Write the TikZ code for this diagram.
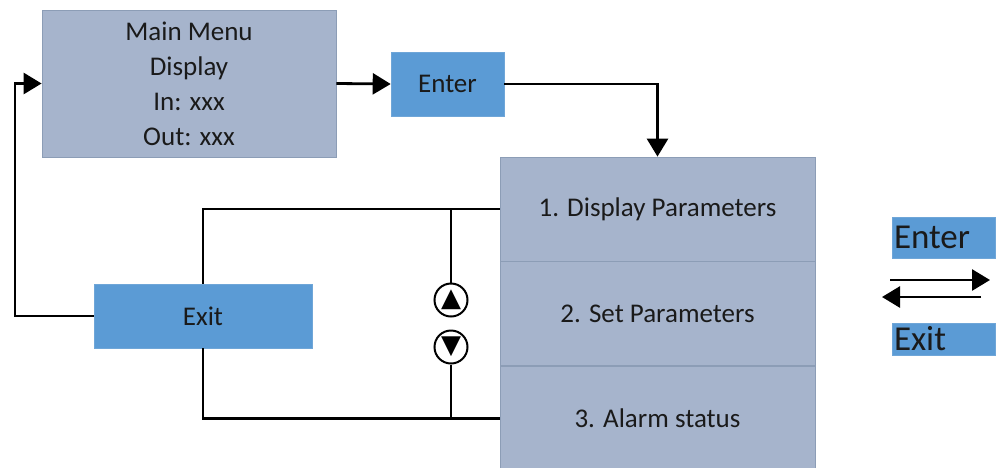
\documentclass[tikz,border=0pt]{standalone}
\usepackage{fontspec}
\setmainfont{Carlito}
\newfontfamily\symfont{DejaVu Sans}
\usepackage{tikz}
\usetikzlibrary{arrows.meta,positioning}

\definecolor{menufill}{HTML}{A6B4CC}
\definecolor{menuedge}{HTML}{8C9DB6}
\definecolor{keyfill}{HTML}{5B9BD5}
\definecolor{keyedge}{HTML}{6FA6D8}
\definecolor{ink}{HTML}{1A1A1A}

\begin{document}
\begin{tikzpicture}[x=1pt, y=-1pt, >={Triangle[length=18pt,width=21pt]}, line width=2.8pt,
	  menu/.style={rectangle, draw=menuedge, fill=menufill, line width=0.8pt, align=center, text=ink, inner sep=0pt,
	               font=\fontsize{27}{35}\selectfont},
	  key/.style={rectangle, draw=keyedge, fill=keyfill, line width=0.6pt, text=ink, inner sep=0pt,
	              font=\fontsize{27}{30}\selectfont, minimum height=64pt},
	  bigkey/.style={key, font=\fontsize{35}{36}\selectfont, text width=99pt, inner xsep=2pt, align=left},
	  btn/.style={circle, draw, line width=2pt, minimum size=33pt, inner sep=0pt, text=black,
	              font=\symfont\fontsize{26}{26}\selectfont}]
	  		\useasboundingbox (0,0) rectangle (1002,467);

	  		% main screen and the key that opens the list
	  		\node[menu, minimum width=294pt, minimum height=147pt] (MAIN) at (189,83.5)	{Main Menu\\Display\\In: xxx\\Out: xxx};
	  		\node[key, minimum width=113pt]	(ENTER) at (447.5,84)	{Enter};

	  		% parameter list
	  		\node[menu, minimum width=315pt, minimum height=104pt] (DISP)  at (657.5,209)	{1. Display Parameters};
	  		\node[menu, minimum width=315pt, minimum height=104pt] (SET)   [below=0pt of DISP]	{2. Set Parameters};
	  		\node[menu, minimum width=315pt, minimum height=104pt] (ALARM) [below=0pt of SET]	{3. Alarm status};

	  		\node[key, minimum width=218pt]	(EXIT) at (203,316)	{Exit};
	  		\node[btn] (UP)   at (451,300)	{▲};
	  		\node[btn] (DOWN) at (451,347)	{▼};
	  		\coordinate (BACK) at (15,316);

	  		\draw[->] (MAIN.east) -- (ENTER.west);
	  		\draw[->] (ENTER.east) -| (DISP.north);
	  		\draw (DISP.west) -- (DISP.west -| EXIT.north) -- (EXIT.north);
	  		\draw (ALARM.west) -- (ALARM.west -| EXIT.south) -- (EXIT.south);
	  		\draw (UP.north) -- (UP.north |- DISP.west);
	  		\draw (DOWN.south) -- (DOWN.south |- ALARM.west);
	  		\draw[->] (EXIT.west) -- (BACK) |- (MAIN.west);

	  		% legend
	  		\node[bigkey, minimum height=41pt] (KEYIN)  at (943.5,237.5)	{Enter};
	  		\node[bigkey, minimum height=32pt] (KEYOUT) at (943.5,339)	{Exit};
	  		\coordinate (FWDA) at (890,280);
	  		\coordinate (FWDB) at (990,280);
	  		\coordinate (BCKA) at (981,297);
	  		\coordinate (BCKB) at (882,297);
	  		\draw[->] (FWDA) -- (FWDB);
	  		\draw[->] (BCKA) -- (BCKB);
\end{tikzpicture}
\end{document}
